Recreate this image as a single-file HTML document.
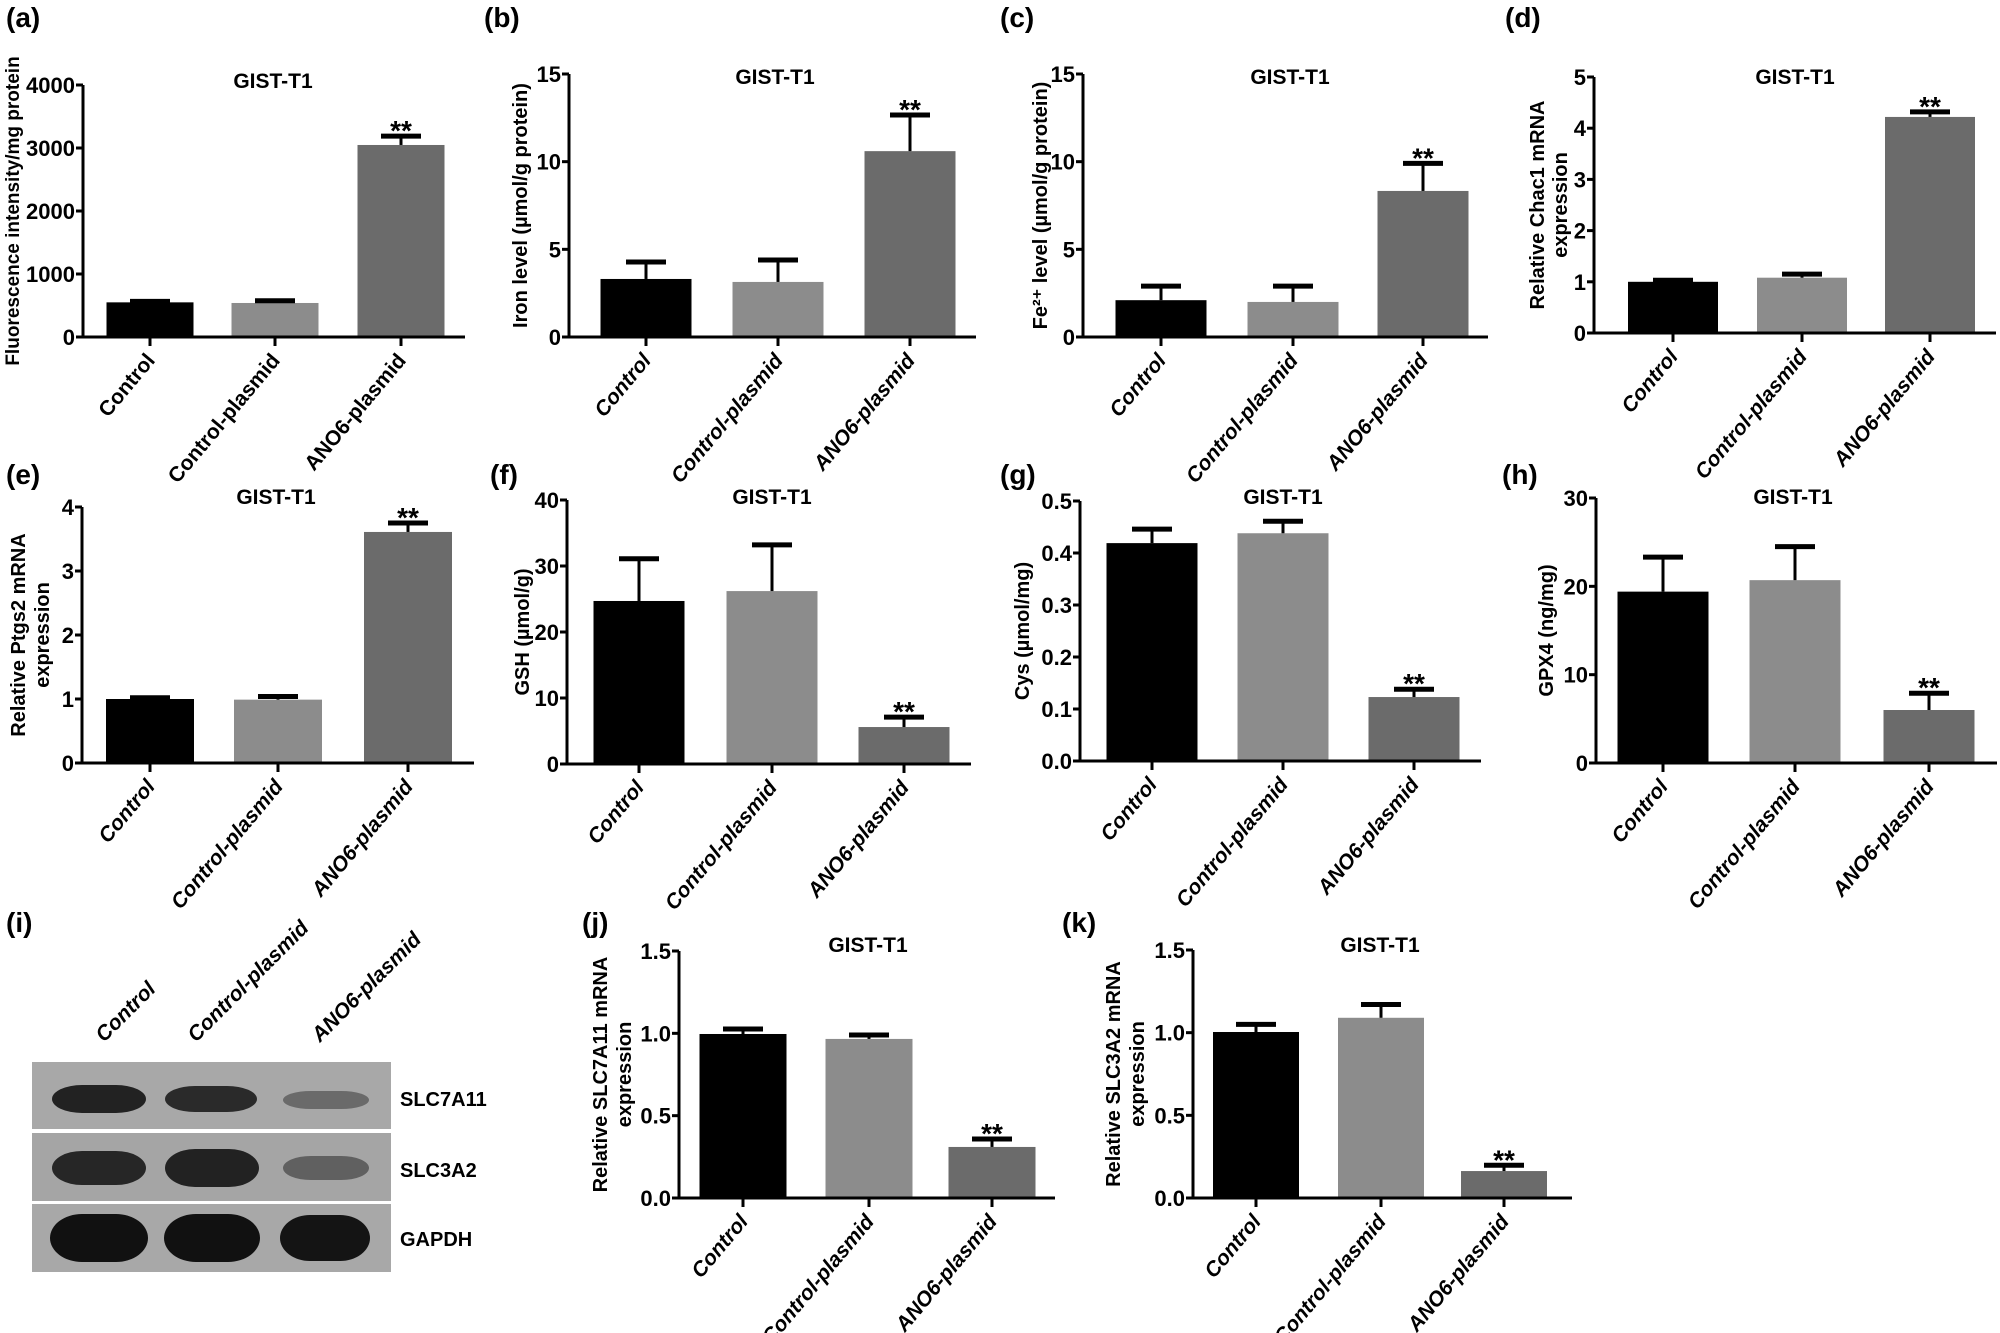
<!DOCTYPE html>
<html><head><meta charset="utf-8">
<style>
html,body{margin:0;padding:0;background:#fff;}
svg{display:block;font-family:"Liberation Sans",Arial,sans-serif;}
</style></head>
<body>
<svg id="fig" width="2000" height="1333" viewBox="0 0 2000 1333" xmlns="http://www.w3.org/2000/svg">
  <g id="blot">
    <text x="6" y="932" font-size="28" font-weight="bold">(i)</text>
    <text transform="translate(104,1043) rotate(-45)" font-size="21" font-weight="bold" font-style="italic">Control</text>
    <text transform="translate(196,1043) rotate(-45)" font-size="21" font-weight="bold" font-style="italic">Control-plasmid</text>
    <text transform="translate(320,1043) rotate(-45)" font-size="21" font-weight="bold" font-style="italic">ANO6-plasmid</text>
    <rect x="32" y="1062" width="359" height="67" fill="#a8a8a8"/>
    <rect x="32" y="1133" width="359" height="68" fill="#a5a5a5"/>
    <rect x="32" y="1204" width="359" height="68" fill="#a8a8a8"/>
    <rect x="52" y="1085" width="94" height="28" rx="30" ry="14" fill="#222"/>
    <rect x="165" y="1086" width="92" height="26" rx="30" ry="13" fill="#2a2a2a"/>
    <rect x="283" y="1091" width="86" height="18" rx="28" ry="9" fill="#6a6a6a"/>
    <rect x="52" y="1151" width="94" height="34" rx="30" ry="17" fill="#262626"/>
    <rect x="165" y="1149" width="94" height="38" rx="30" ry="19" fill="#222"/>
    <rect x="283" y="1156" width="86" height="24" rx="28" ry="12" fill="#606060"/>
    <rect x="50" y="1214" width="98" height="48" rx="32" ry="24" fill="#111"/>
    <rect x="164" y="1214" width="96" height="48" rx="32" ry="24" fill="#111"/>
    <rect x="280" y="1215" width="90" height="46" rx="30" ry="23" fill="#141414"/>
    <text x="400" y="1106" font-size="20" font-weight="bold">SLC7A11</text>
    <text x="400" y="1177" font-size="20" font-weight="bold">SLC3A2</text>
    <text x="400" y="1246" font-size="20" font-weight="bold">GAPDH</text>
  </g>
</svg>
<script>
const categories = ["Control","Control-plasmid","ANO6-plasmid"];
const aValues=[550,540,3048];  const aErrors=[15,35,140];
const bValues=[3.31,3.14,10.6]; const bErrors=[0.97,1.25,2.06];
const cValues=[2.1,2.0,8.33];  const cErrors=[0.8,0.9,1.57];
const dValues=[1.0,1.08,4.22]; const dErrors=[0.03,0.07,0.1];
const eValues=[1.0,0.99,3.61]; const eErrors=[0.02,0.05,0.14];
const fValues=[24.7,26.2,5.6]; const fErrors=[6.4,7.0,1.5];
const gValues=[0.419,0.438,0.123]; const gErrors=[0.027,0.023,0.015];
const hValues=[19.4,20.7,6.0]; const hErrors=[3.9,3.8,1.9];
const jValues=[0.996,0.966,0.31]; const jErrors=[0.03,0.024,0.048];
const kValues=[1.004,1.09,0.163]; const kErrors=[0.046,0.08,0.035];
const aTicks=[0,1000,2000,3000,4000];
const bTicks=[0,5,10,15];
const cTicks=[0,5,10,15];
const dTicks=[0,1,2,3,4,5];
const eTicks=[0,1,2,3,4];
const fTicks=[0,10,20,30,40];
const gTicks=[0,0.1,0.2,0.3,0.4,0.5];
const hTicks=[0,10,20,30];
const jTicks=[0,0.5,1,1.5];
const kTicks=[0,0.5,1,1.5];

const NS="http://www.w3.org/2000/svg";
const svg=document.getElementById('fig');
const colors=["#000000","#8c8c8c","#6b6b6b"];
function mk(tag,attrs,parent){const e=document.createElementNS(NS,tag);for(const k in attrs)e.setAttribute(k,attrs[k]);(parent||svg).appendChild(e);return e;}

const panels=[
 {id:'a',vals:aValues,errs:aErrors,ticks:aTicks,dec:0,ax:83,ex:465,zy:337,ty:85,cx:[150,275,401],bw:87,lab:[6,27],ylab:["Fluorescence intensity/mg protein"],ylx:[12],yfs:19,italic:false,ts:[273,88]},
 {id:'b',vals:bValues,errs:bErrors,ticks:bTicks,dec:0,ax:569,ex:976,zy:337,ty:74,cx:[646,778,910],bw:91,lab:[484,27],ylab:["Iron level (µmol/g protein)"],ylx:[520],italic:true,ts:[775,84]},
 {id:'c',vals:cValues,errs:cErrors,ticks:cTicks,dec:0,ax:1083,ex:1488,zy:337,ty:74,cx:[1161,1293,1423],bw:91,lab:[1000,27],ylab:["Fe²⁺ level (µmol/g protein)"],ylx:[1040],italic:true,ts:[1290,84]},
 {id:'d',vals:dValues,errs:dErrors,ticks:dTicks,dec:0,ax:1594,ex:1996,zy:333,ty:77,cx:[1673,1802,1930],bw:90,lab:[1505,27],ylab:["Relative Chac1 mRNA","expression"],ylx:[1537,1560],italic:true,ts:[1795,84]},
 {id:'e',vals:eValues,errs:eErrors,ticks:eTicks,dec:0,ax:82,ex:474,zy:763,ty:507,cx:[150,278,408],bw:88,lab:[6,484],ylab:["Relative Ptgs2 mRNA","expression"],ylx:[18,42],italic:true,ts:[276,504]},
 {id:'f',vals:fValues,errs:fErrors,ticks:fTicks,dec:0,ax:567,ex:971,zy:764,ty:500,cx:[639,772,904],bw:91,lab:[490,484],ylab:["GSH (µmol/g)"],ylx:[522],italic:true,ts:[772,504]},
 {id:'g',vals:gValues,errs:gErrors,ticks:gTicks,dec:1,ax:1080,ex:1481,zy:761,ty:501,cx:[1152,1283,1414],bw:91,lab:[1000,484],ylab:["Cys (µmol/mg)"],ylx:[1022],italic:true,ts:[1283,504]},
 {id:'h',vals:hValues,errs:hErrors,ticks:hTicks,dec:0,ax:1596,ex:1997,zy:763,ty:498,cx:[1663,1795,1929],bw:91,lab:[1502,484],ylab:["GPX4 (ng/mg)"],ylx:[1546],italic:true,ts:[1793,504]},
 {id:'j',vals:jValues,errs:jErrors,ticks:jTicks,dec:1,ax:679,ex:1055,zy:1198,ty:951,cx:[743,869,992],bw:87,lab:[582,932],ylab:["Relative SLC7A11 mRNA","expression"],ylx:[600,624],italic:true,ts:[868,952]},
 {id:'k',vals:kValues,errs:kErrors,ticks:kTicks,dec:1,ax:1193,ex:1572,zy:1198,ty:950,cx:[1256,1381,1504],bw:86,lab:[1062,932],ylab:["Relative SLC3A2 mRNA","expression"],ylx:[1113,1137],italic:true,ts:[1380,952]}
];

panels.forEach(p=>{
  const g=mk('g',{});
  
  
  const max=p.ticks[p.ticks.length-1];
  const y=v=>p.zy-(v/max)*(p.zy-p.ty);
  const pl=mk('text',{x:p.lab[0],y:p.lab[1],'font-size':28,'font-weight':'bold'},g);
  pl.textContent='('+p.id+')';
  
  
  const tt=mk('text',{x:p.ts[0],y:p.ts[1],'font-size':21,'font-weight':'bold','text-anchor':'middle'},g);
  tt.textContent='GIST-T1';
  
  
  p.vals.forEach((v,i)=>{
    const r=mk('rect',{x:p.cx[i]-p.bw/2,y:y(v),width:p.bw,height:p.zy-y(v),fill:colors[i]},g);
    
    
    const top=y(v+p.errs[i]);
    const l=mk('line',{x1:p.cx[i],x2:p.cx[i],y1:y(v),y2:top,stroke:'#000','stroke-width':3},g);
    
    
    const c=mk('line',{x1:p.cx[i]-20,x2:p.cx[i]+20,y1:top,y2:top,stroke:'#000','stroke-width':5},g);
    
    
    if(i===2){
      const s=mk('text',{x:p.cx[i],y:top+4,'font-size':28,'font-weight':'bold','text-anchor':'middle'},g);
      s.textContent='**';
      
      
    }
  });
  const ya=mk('line',{x1:p.ax,x2:p.ax,y1:p.ty,y2:p.zy+1,stroke:'#000','stroke-width':3},g);
  
  
  const xa=mk('line',{x1:p.ax-1,x2:p.ex,y1:p.zy,y2:p.zy,stroke:'#000','stroke-width':3},g);
  
  
  p.ticks.forEach(t=>{
    const ty=y(t);
    mk('line',{x1:p.ax-7,x2:p.ax,y1:ty,y2:ty,stroke:'#000','stroke-width':3},g);
    const tl=mk('text',{x:p.ax-8,y:ty+8,'font-size':22,'font-weight':'bold','text-anchor':'end'},g);
    tl.textContent=p.dec?t.toFixed(p.dec):String(t);
    
    
  });
  categories.forEach((c,i)=>{
    mk('line',{x1:p.cx[i],x2:p.cx[i],y1:p.zy,y2:p.zy+9,stroke:'#000','stroke-width':3},g);
    const xl=mk('text',{transform:`translate(${p.cx[i]+6},${p.zy+24}) rotate(-50)`,'font-size':21,'font-weight':'bold','font-style':p.italic?'italic':'normal','text-anchor':'end'},g);
    xl.textContent=c;
    
    
  });
  const mid=(p.ty+p.zy)/2;
  p.ylab.forEach((t,k)=>{
    const yl=mk('text',{transform:`translate(${p.ylx[k]+7},${mid}) rotate(-90)`,'font-size':p.yfs||20,'font-weight':'bold','text-anchor':'middle'},g);
    yl.textContent=t;
    
    
  });
});
</script>
</body></html>
